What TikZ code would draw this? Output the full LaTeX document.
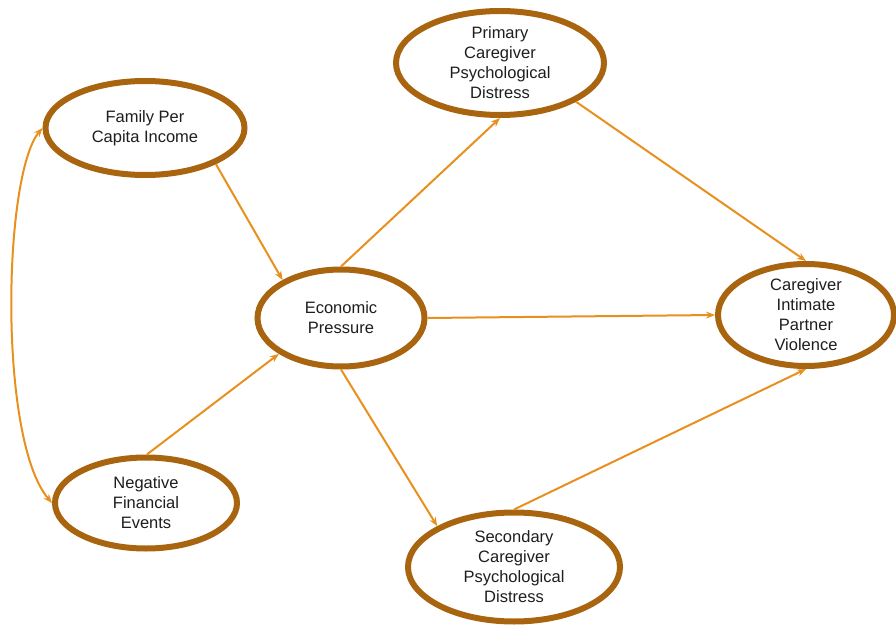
\documentclass[tikz,border=0pt]{standalone}
\usepackage{fontspec}
\setmainfont{Liberation Sans}
\usetikzlibrary{shapes.geometric,arrows.meta}
\definecolor{rim}{HTML}{A8640F}
\definecolor{arr}{HTML}{E8901E}
\definecolor{txt}{HTML}{1E1E1E}
\tikzset{
  var/.style={ellipse,draw=rim,line width=6pt,fill=white,inner sep=0pt,align=center,text=txt,font=\fontsize{16.5}{20}\selectfont},
  link/.style={draw=arr,line width=2pt,-{Stealth[length=9pt,width=7pt]}},
}
\begin{document}
\begin{tikzpicture}[x=1pt,y=-1pt]
\useasboundingbox (0,0) rectangle (896,628);
\node[var,minimum width=199pt,minimum height=94pt] (fam) at (145,128) {Family Per\\Capita Income};
\node[var,minimum width=167pt,minimum height=97pt] (eco) at (341,318) {Economic\\Pressure};
\node[var,minimum width=208pt,minimum height=104pt] (pri) at (500,63) {Primary\\Caregiver\\Psychological\\Distress};
\node[var,minimum width=176pt,minimum height=84pt] (ipv) at (806,315) {Caregiver\\Intimate\\Partner\\Violence};
\node[var,minimum width=182pt,minimum height=91pt] (neg) at (146,503) {Negative\\Financial\\Events};
\node[var,minimum width=212pt,minimum height=109pt] (sec) at (514,567) {Secondary\\Caregiver\\Psychological\\Distress};
\draw[link] (fam.-27) -- (eco.147);
\draw[link] (neg.89) -- (eco.210);
\draw[link] (eco.90) -- (pri.-90);
\draw[link] (eco.0) -- (ipv.180);
\draw[link] (eco.-90) -- (sec.152);
\draw[link] (pri.-27) -- (ipv.90);
\draw[link] (sec.90) -- (ipv.-90);
\draw[draw=arr,line width=2pt,{Stealth[length=9pt,width=7pt]}-{Stealth[length=9pt,width=7pt]}] (fam.180) .. controls (3,175) and (-2,440) .. (neg.180);
\end{tikzpicture}
\end{document}
